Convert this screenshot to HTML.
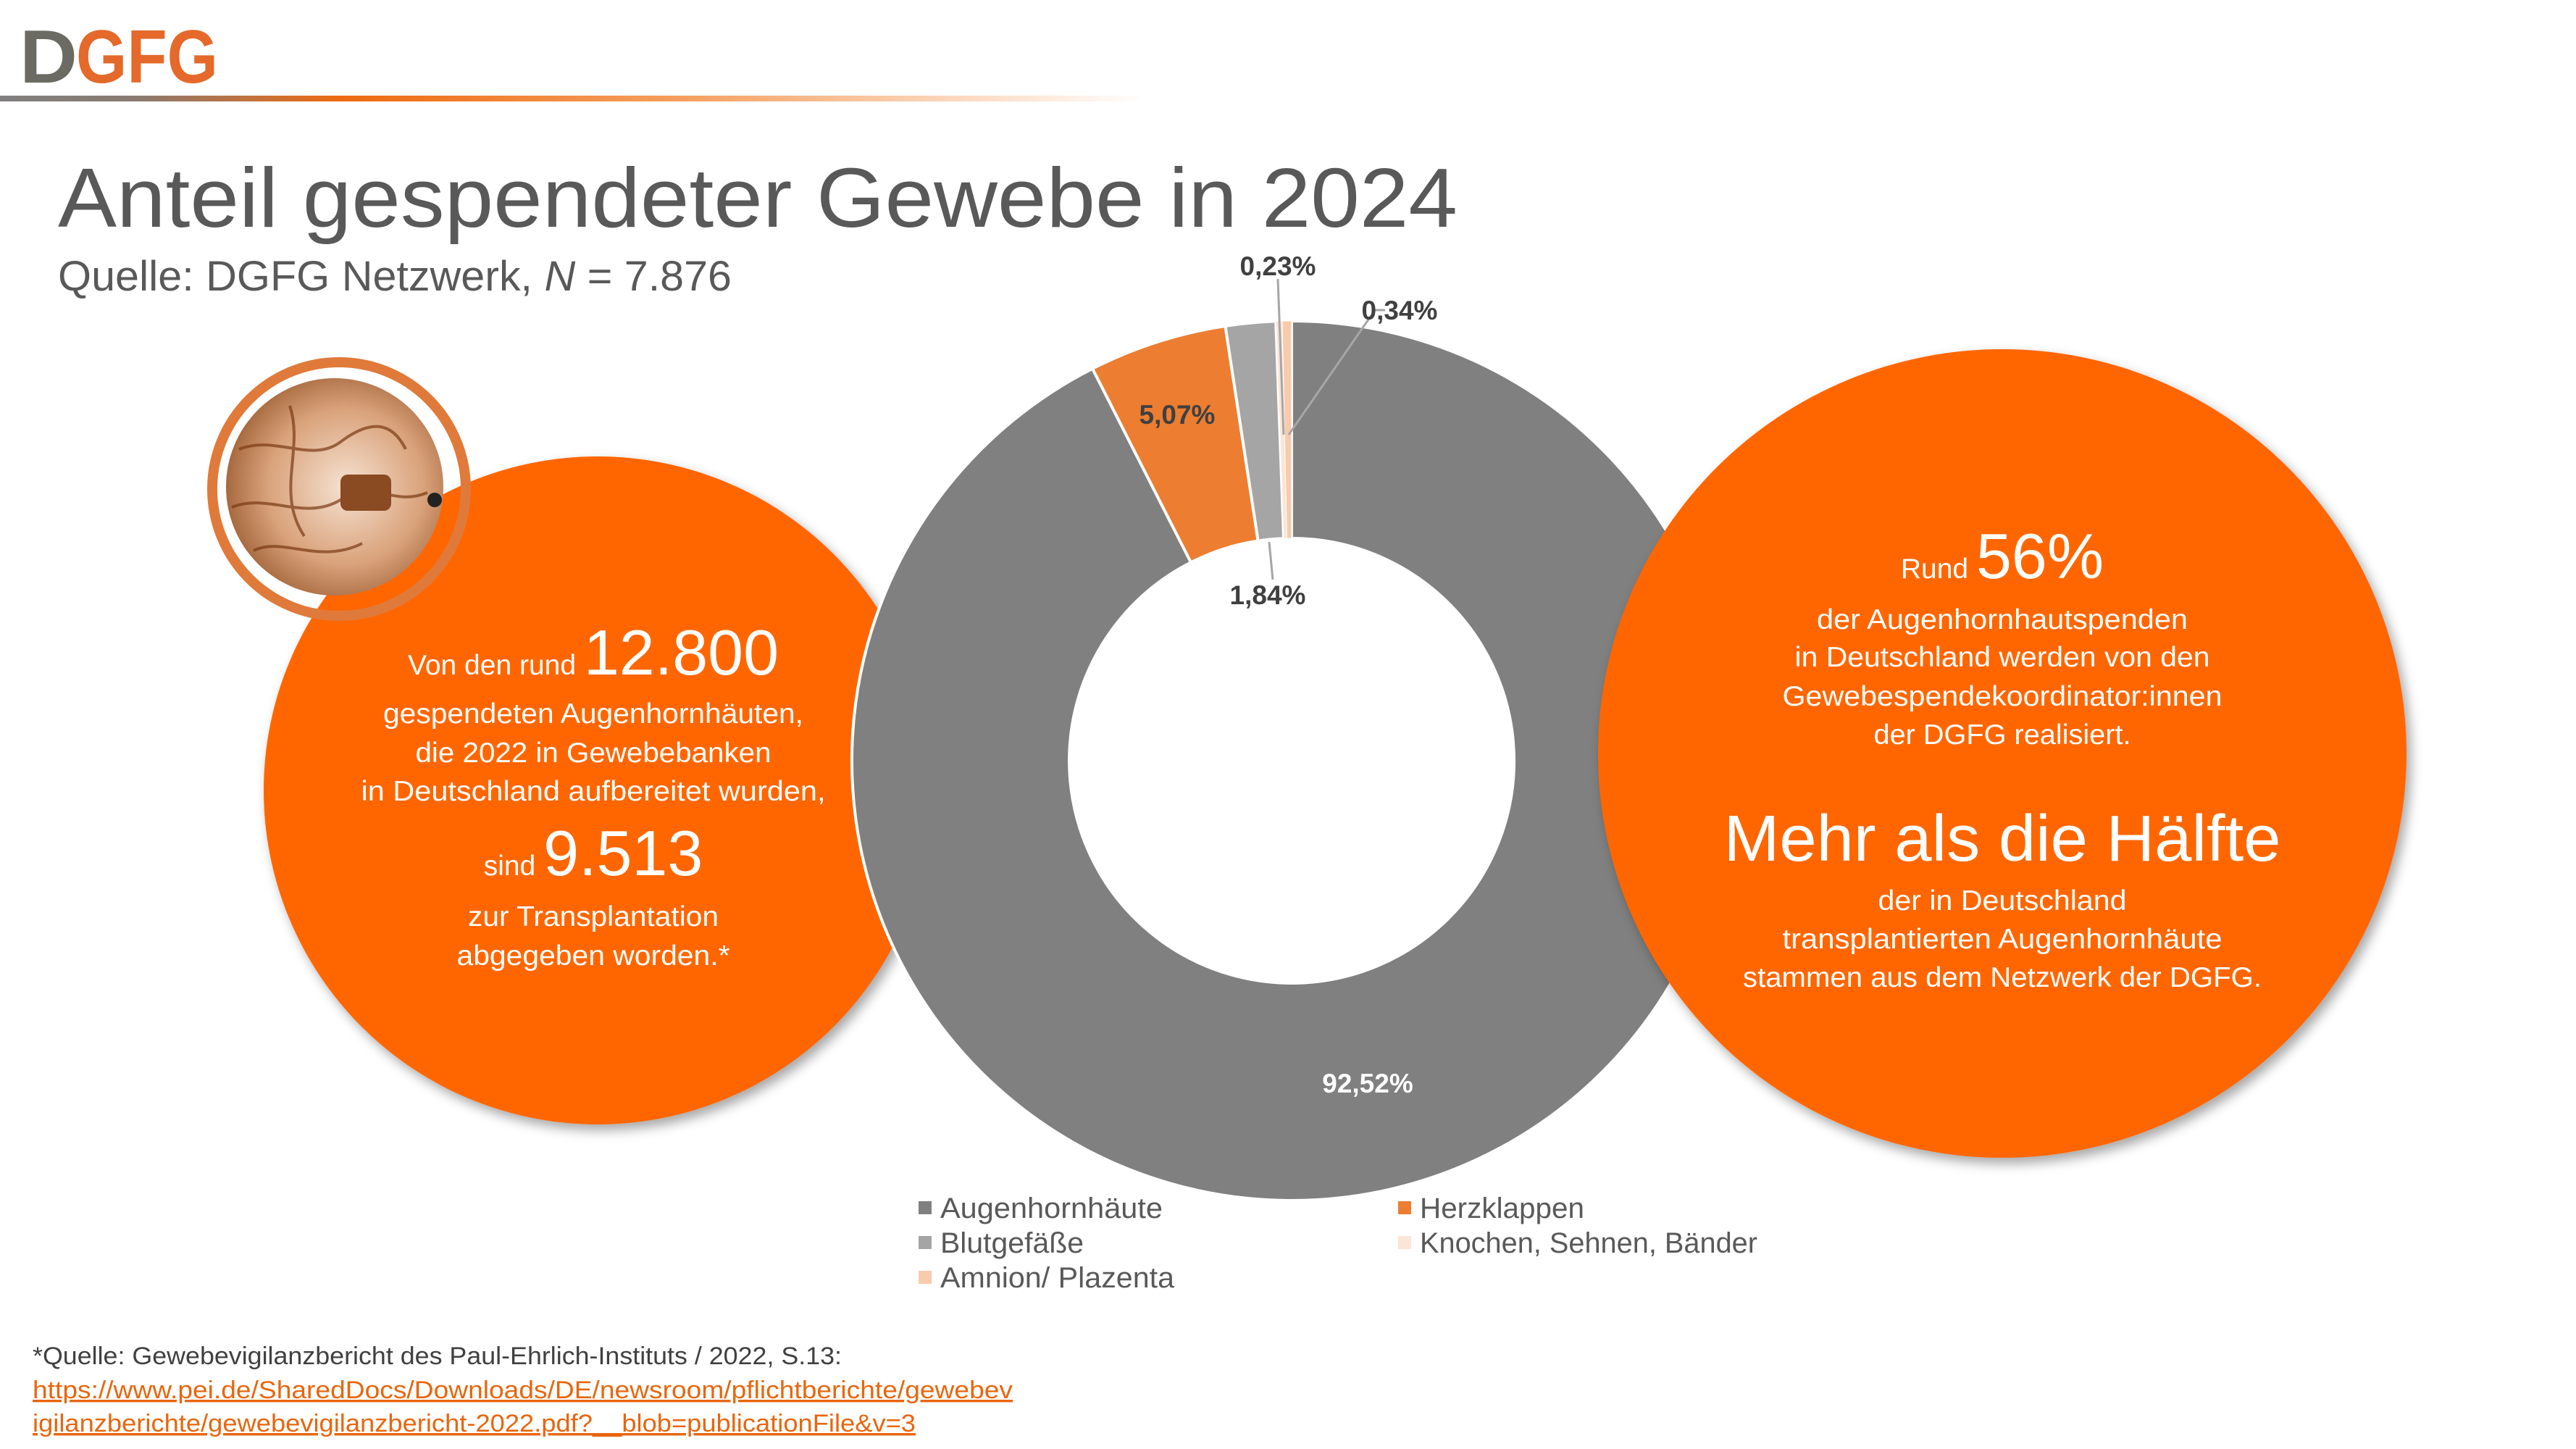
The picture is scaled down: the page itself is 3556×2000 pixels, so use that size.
<!DOCTYPE html>
<html><head><meta charset="utf-8"><style>
html,body{margin:0;padding:0;background:#fff;}
svg{display:block;font-family:"Liberation Sans",sans-serif;}
</style></head><body>
<svg width="3556" height="2000" viewBox="0 0 3556 2000" xmlns="http://www.w3.org/2000/svg">
<defs>
<linearGradient id="bar" x1="0" x2="1" y1="0" y2="0">
<stop offset="0" stop-color="#7f7f7f"/><stop offset="0.12" stop-color="#8a7a70"/>
<stop offset="0.3" stop-color="#ee6a10"/><stop offset="0.6" stop-color="#f5a060"/>
<stop offset="1" stop-color="#ffffff"/></linearGradient>
<radialGradient id="eye" cx="0.55" cy="0.5" r="0.6">
<stop offset="0" stop-color="#f6e2d2"/><stop offset="0.6" stop-color="#d9a27a"/><stop offset="1" stop-color="#9a5a30"/></radialGradient>
<filter id="sh" x="-10%" y="-10%" width="130%" height="130%"><feDropShadow dx="6" dy="8" stdDeviation="8" flood-color="#000" flood-opacity="0.35"/></filter>
</defs>

<!-- logo -->
<text x="27" y="114" font-size="104" font-weight="bold" fill="#6b6b63" textLength="80" lengthAdjust="spacingAndGlyphs">D</text>
<text x="105" y="114" font-size="104" font-weight="bold" fill="#e4692a" textLength="196" lengthAdjust="spacingAndGlyphs">GFG</text>
<rect x="0" y="132" width="1580" height="8" fill="url(#bar)"/>

<!-- title -->
<text x="80" y="313" font-size="116" fill="#595959" textLength="1932" lengthAdjust="spacingAndGlyphs">Anteil gespendeter Gewebe in 2024</text>
<text x="80" y="401" font-size="58" fill="#595959" textLength="930" lengthAdjust="spacingAndGlyphs">Quelle: DGFG Netzwerk, <tspan font-style="italic">N</tspan> = 7.876</text>

<!-- left circle -->
<circle cx="825" cy="1091" r="461" fill="#ff6600" filter="url(#sh)"/>

<!-- donut -->
<g stroke="#fff" stroke-width="4">
<path d="M1783,443 A607,607 0 1 1 1508.1,508.8 L1644.0,776.3 A307,307 0 1 0 1783,743 Z" fill="#808080"/>
<path d="M1508.1,508.8 A607,607 0 0 1 1691.4,450.0 L1736.7,746.5 A307,307 0 0 0 1644.0,776.3 Z" fill="#ed7d31"/>
<path d="M1691.4,450.0 A607,607 0 0 1 1761.2,443.4 L1772.0,743.2 A307,307 0 0 0 1736.7,746.5 Z" fill="#a5a5a5"/>
<path d="M1761.2,443.4 A607,607 0 0 1 1770.0,443.1 L1776.4,743.1 A307,307 0 0 0 1772.0,743.2 Z" fill="#fbe5d6" stroke-width="1"/>
<path d="M1770.0,443.1 A607,607 0 0 1 1783,443 L1783,743 A307,307 0 0 0 1776.4,743.1 Z" fill="#f8cbad" stroke-width="1"/>
</g>
<g stroke="#a6a6a6" stroke-width="3" fill="none">
<polyline points="1764,385 1772,600"/>
<polyline points="1912,428 1898,428 1779,600"/>
<polyline points="1757,800 1752,748"/>
</g>
<g font-size="37" font-weight="bold" fill="#404040" text-anchor="middle">
<text x="1764" y="380">0,23%</text>
<text x="1932" y="441">0,34%</text>
<text x="1625" y="585">5,07%</text>
<text x="1750" y="834">1,84%</text>
<text x="1888" y="1508" fill="#fff">92,52%</text>
</g>

<!-- right circle -->
<circle cx="2764" cy="1040" r="558" fill="#ff6600" filter="url(#sh)"/>

<!-- eye image -->
<circle cx="468" cy="675" r="175" fill="none" stroke="#e07a3a" stroke-width="14"/>
<circle cx="462" cy="672" r="150" fill="url(#eye)"/>
<g stroke="#7a3a14" stroke-width="4" fill="none" opacity="0.7">
<path d="M330,620 C380,600 430,640 470,610 S540,580 560,620"/>
<path d="M320,700 C370,680 420,720 470,690 S540,700 590,680"/>
<path d="M350,760 C390,740 440,780 500,750"/>
<path d="M400,560 C420,620 380,680 420,740"/>
</g>
<rect x="470" y="655" width="70" height="50" rx="10" fill="#8a4a22"/>
<circle cx="600" cy="690" r="10" fill="#222"/>

<!-- left text -->
<g fill="#fff" text-anchor="middle">
<text x="819" y="931"><tspan font-size="39">Von den rund </tspan><tspan font-size="88">12.800</tspan></text>
<text x="819" y="998" font-size="39" textLength="580" lengthAdjust="spacingAndGlyphs">gespendeten Augenhornhäuten,</text>
<text x="819" y="1052" font-size="39" textLength="491" lengthAdjust="spacingAndGlyphs">die 2022 in Gewebebanken</text>
<text x="819" y="1105" font-size="39" textLength="641" lengthAdjust="spacingAndGlyphs">in Deutschland aufbereitet wurden,</text>
<text x="819" y="1208"><tspan font-size="39">sind </tspan><tspan font-size="88">9.513</tspan></text>
<text x="819" y="1278" font-size="39" textLength="346" lengthAdjust="spacingAndGlyphs">zur Transplantation</text>
<text x="819" y="1332" font-size="39" textLength="377" lengthAdjust="spacingAndGlyphs">abgegeben worden.*</text>
</g>

<!-- right text -->
<g fill="#fff" text-anchor="middle">
<text x="2764" y="798"><tspan font-size="39">Rund </tspan><tspan font-size="88">56%</tspan></text>
<text x="2764" y="868" font-size="39" textLength="512" lengthAdjust="spacingAndGlyphs">der Augenhornhautspenden</text>
<text x="2764" y="920" font-size="39" textLength="573" lengthAdjust="spacingAndGlyphs">in Deutschland werden von den</text>
<text x="2764" y="974" font-size="39" textLength="607" lengthAdjust="spacingAndGlyphs">Gewebespendekoordinator:innen</text>
<text x="2764" y="1027" font-size="39" textLength="355" lengthAdjust="spacingAndGlyphs">der DGFG realisiert.</text>
<text x="2764" y="1188" font-size="90" textLength="769" lengthAdjust="spacingAndGlyphs">Mehr als die Hälfte</text>
<text x="2764" y="1256" font-size="39" textLength="343" lengthAdjust="spacingAndGlyphs">der in Deutschland</text>
<text x="2764" y="1309" font-size="39" textLength="607" lengthAdjust="spacingAndGlyphs">transplantierten Augenhornhäute</text>
<text x="2764" y="1362" font-size="39" textLength="716" lengthAdjust="spacingAndGlyphs">stammen aus dem Netzwerk der DGFG.</text>
</g>

<!-- legend -->
<g font-size="40" fill="#595959">
<rect x="1268" y="1658" width="18" height="18" fill="#808080"/>
<text x="1298" y="1681" textLength="307" lengthAdjust="spacingAndGlyphs">Augenhornhäute</text>
<rect x="1930" y="1658" width="18" height="18" fill="#ed7d31"/>
<text x="1960" y="1681" textLength="227" lengthAdjust="spacingAndGlyphs">Herzklappen</text>
<rect x="1268" y="1706" width="18" height="18" fill="#a5a5a5"/>
<text x="1298" y="1729" textLength="198" lengthAdjust="spacingAndGlyphs">Blutgefäße</text>
<rect x="1930" y="1706" width="18" height="18" fill="#fbe5d6"/>
<text x="1960" y="1729" textLength="466" lengthAdjust="spacingAndGlyphs">Knochen, Sehnen, Bänder</text>
<rect x="1268" y="1754" width="18" height="18" fill="#f8cbad"/>
<text x="1298" y="1777" textLength="323" lengthAdjust="spacingAndGlyphs">Amnion/ Plazenta</text>
</g>

<!-- footnote -->
<g font-size="34">
<text x="45" y="1883" fill="#404040" textLength="1117" lengthAdjust="spacingAndGlyphs">*Quelle: Gewebevigilanzbericht des Paul-Ehrlich-Instituts / 2022, S.13:</text>
<text x="45" y="1930" fill="#e8660e" text-decoration="underline" textLength="1353" lengthAdjust="spacingAndGlyphs">https://www.pei.de/SharedDocs/Downloads/DE/newsroom/pflichtberichte/gewebev</text>
<text x="45" y="1976" fill="#e8660e" text-decoration="underline" textLength="1219" lengthAdjust="spacingAndGlyphs">igilanzberichte/gewebevigilanzbericht-2022.pdf?__blob=publicationFile&amp;v=3</text>
</g>
</svg>
</body></html>
